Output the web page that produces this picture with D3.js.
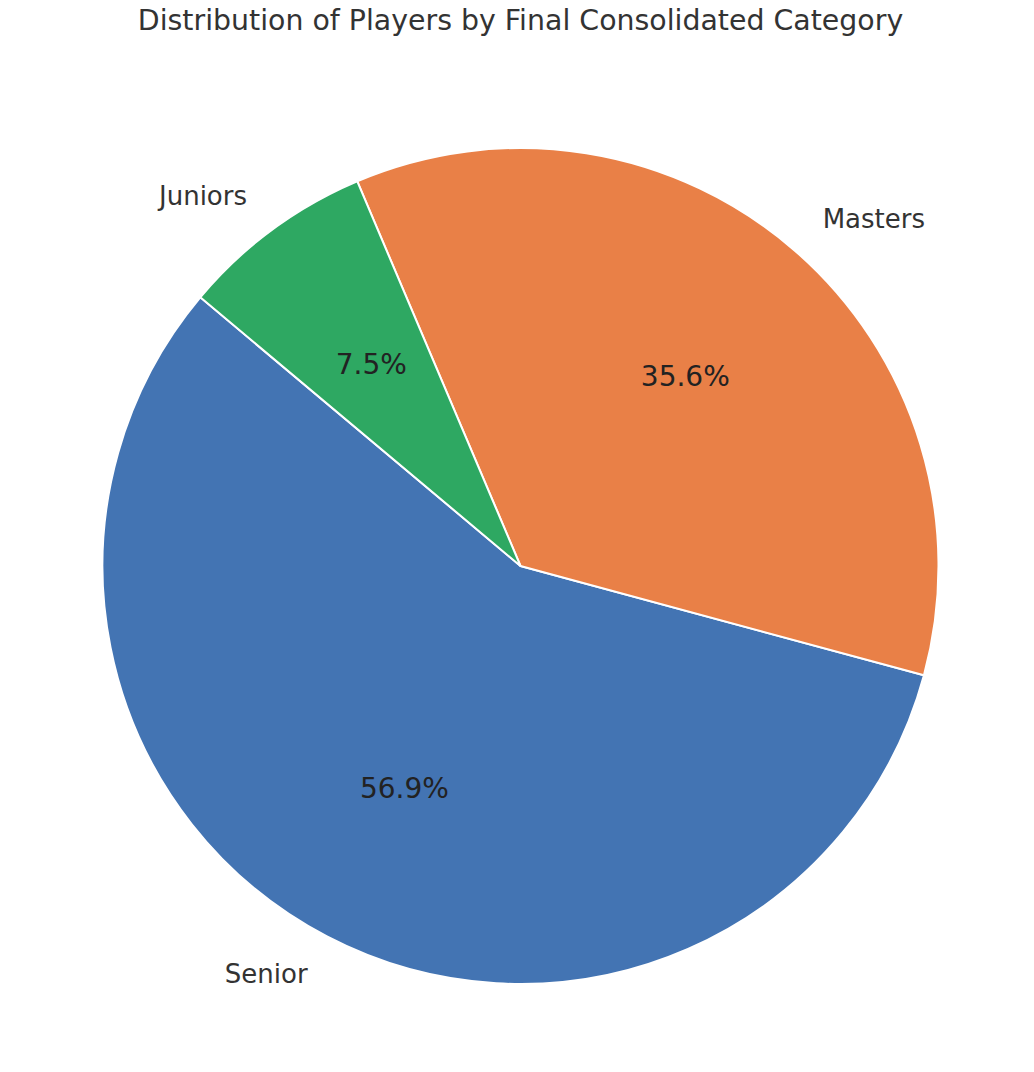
<!DOCTYPE html>
<html><head><meta charset="utf-8">
<script src="https://cdn.jsdelivr.net/npm/d3@7"></script>
<style>body{margin:0;background:#fff}svg{display:block}text{font-family:"DejaVu Sans",sans-serif}</style>
</head><body>
<svg id="c" width="1034" height="1072"></svg>
<script>
const categories = ["Senior", "Masters", "Juniors"];
const percents = [56.9, 35.6, 7.5];
const colors = ["#4374B3", "#E98047", "#2EA862"];
const title = "Distribution of Players by Final Consolidated Category";

const svg = d3.select("#c");
const cx = 520.5, cy = 566, R = 418;
const startDeg = 140;
const data = categories.map((c, i) => ({c, v: percents[i], col: colors[i]}));
const total = d3.sum(percents);
const angScale = d3.scaleLinear().domain([0, total]).range([0, 2 * Math.PI]);
let acc = 0;
data.forEach(d => {
  const a0 = startDeg * Math.PI / 180 + angScale(acc);
  acc += d.v;
  const a1 = startDeg * Math.PI / 180 + angScale(acc);
  d.startAngle = Math.PI / 2 - a1;
  d.endAngle = Math.PI / 2 - a0;
  d.mid = (a0 + a1) / 2;
});
const arc = d3.arc().innerRadius(0).outerRadius(R);
const g = svg.append("g").attr("transform", `translate(${cx},${cy})`);
g.selectAll("path").data(data).join("path")
  .attr("d", arc).attr("fill", d => d.col)
  .attr("stroke", "#fff").attr("stroke-width", 2).attr("stroke-linejoin", "round");

g.selectAll("text.lab").data(data).join("text").attr("class", "lab")
  .attr("x", d => 1.1 * R * Math.cos(d.mid))
  .attr("y", d => -1.1 * R * Math.sin(d.mid))
  .attr("text-anchor", d => Math.cos(d.mid) < 0 ? "end" : "start")
  .attr("dominant-baseline", "central")
  .attr("font-size", 26).attr("fill", "#333")
  .text(d => d.c);

g.selectAll("text.pct").data(data).join("text").attr("class", "pct")
  .attr("x", d => 0.6 * R * Math.cos(d.mid))
  .attr("y", d => -0.6 * R * Math.sin(d.mid))
  .attr("text-anchor", "middle")
  .attr("dominant-baseline", "central")
  .attr("font-size", 28).attr("fill", "#222")
  .text(d => d.v.toFixed(1) + "%");

svg.append("text").attr("x", cx).attr("y", 30).attr("text-anchor", "middle")
  .attr("font-size", 28.4).attr("fill", "#333").text(title);
</script>
</body></html>
